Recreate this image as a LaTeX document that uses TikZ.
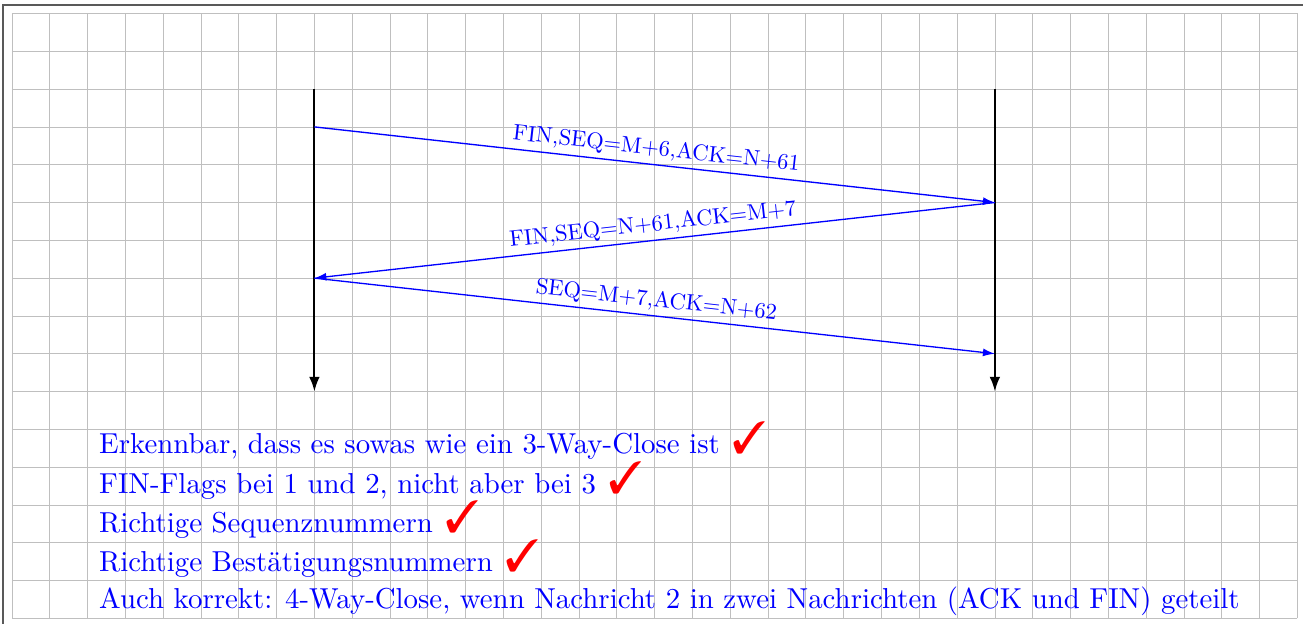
\documentclass[tikz,border=0pt]{standalone}
\usepackage{fontspec}
\usepackage{pifont}
\usetikzlibrary{arrows.meta}
\newfontfamily\lmten{lmroman10-regular.otf}
\newcommand\redcheck{\hspace{2pt}{\color{red}\fontsize{34}{34}\selectfont\ding{51}}}
\begin{document}
\begin{tikzpicture}[
  gridline/.style={gray!50, line width=0.6pt},
  frameline/.style={black!65, line width=1.5pt},
  lifeline/.style={black, line width=1.6pt, -{Latex[length=11pt,width=8pt]}},
  msg/.style={blue, line width=1pt, -{Latex[length=9pt,width=6pt]}},
  msglabel/.style={above, sloped, text=blue, font=\lmten\fontsize{16.9}{19}\selectfont},
  remarks/.style={anchor=base west, align=left, text=blue, inner sep=0pt, font=\lmten\fontsize{21.7}{27.6}\selectfont}
]
\useasboundingbox (-0.317,-0.124) rectangle (34.15,16.357);
\draw[gridline] (0,0) grid (34,16);
\draw[frameline] (-0.246,-0.6) -- (-0.246,16.225) -- (34.6,16.225);

\coordinate (A0) at (8,14);
\coordinate (A1) at (8,6);
\coordinate (B0) at (26,14);
\coordinate (B1) at (26,6);
\draw[lifeline] (A0) -- (A1);
\draw[lifeline] (B0) -- (B1);

\coordinate (a13) at (8,13);
\coordinate (b11) at (26,11);
\coordinate (a9) at (8,9);
\coordinate (b7) at (26,7);
\draw[msg] (a13) -- node[msglabel] (l1) {FIN,SEQ=M+6,ACK=N+61} (b11);
\draw[msg] (b11) -- node[msglabel] (l2) {FIN,SEQ=N+61,ACK=M+7} (a9);
\draw[msg] (a9) -- node[msglabel] (l3) {SEQ=M+7,ACK=N+62} (b7);

\node[remarks] (txt) at (2.3,0.265) {Erkennbar, dass es sowas wie ein 3-Way-Close ist \redcheck\\
FIN-Flags bei 1 und 2, nicht aber bei 3 \redcheck\\
Richtige Sequenznummern \redcheck\\
Richtige Bestätigungsnummern \redcheck\\
Auch korrekt: 4-Way-Close, wenn Nachricht 2 in zwei Nachrichten (ACK und FIN) geteilt};
\end{tikzpicture}
\end{document}
